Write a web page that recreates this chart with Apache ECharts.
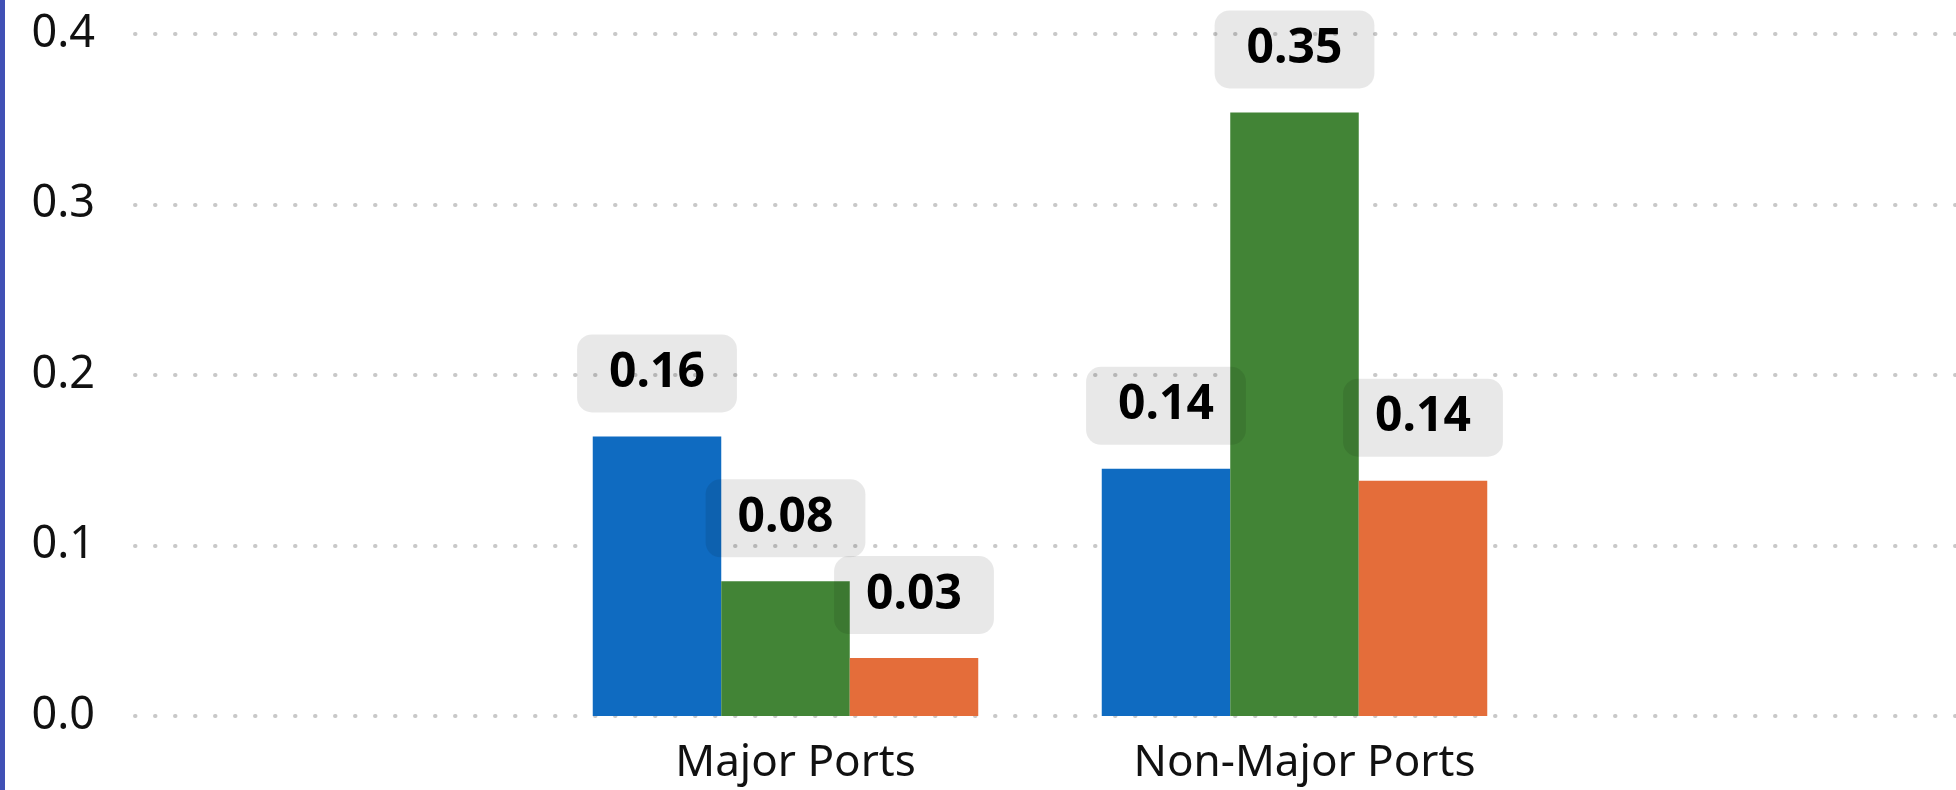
<!DOCTYPE html>
<html>
<head>
<meta charset="utf-8">
<script src="https://cdn.jsdelivr.net/npm/echarts@6/dist/echarts.min.js"></script>
<style>
html,body{margin:0;padding:0;background:#fff;}
#chart{width:1956px;height:790px;}
</style>
</head>
<body>
<div id="chart"></div>
<script>
const categories = ['Major Ports', 'Non-Major Ports'];
const seriesA = [0.164, 0.145];
const seriesB = [0.079, 0.354];
const seriesC = [0.034, 0.138];
const colors = ['#0f6bc1', '#428436', '#e46d3a'];
const yTicks = [0, 0.1, 0.2, 0.3, 0.4];

const FONT = 'Noto Sans';
const chart = echarts.init(document.getElementById('chart'), null, {renderer: 'canvas'});

function mk(name, data, color) {
  return {
    name: name,
    type: 'bar',
    xAxisIndex: 1,
    yAxisIndex: 1,
    data: data,
    barWidth: 128.5,
    barGap: '0%',
    itemStyle: {color: color},
    label: {
      show: true,
      position: 'top',
      distance: 24,
      formatter: p => p.value.toFixed(2),
      fontFamily: FONT,
      fontSize: 48,
      fontWeight: 'bold',
      color: '#000',
      backgroundColor: 'rgba(0,0,0,0.09)',
      borderRadius: 15,
      padding: [15, 32, 15, 32]
    },
    z: 3
  };
}

chart.setOption({
  animation: false,
  grid: [
    {left: 135, right: 0, top: 34, bottom: 74},
    {left: 531, right: 407, top: 34, bottom: 74}
  ],
  xAxis: [
    {type: 'category', gridIndex: 0, data: ['a'], show: false},
    {
      type: 'category', gridIndex: 1, data: categories,
      axisLine: {show: false}, axisTick: {show: false},
      axisLabel: {fontFamily: FONT, fontSize: 44, color: '#111', margin: 25, padding: [0, 0, 0, 20]}
    }
  ],
  yAxis: [
    {
      type: 'value', gridIndex: 0, min: 0, max: yTicks[yTicks.length - 1], interval: 0.1,
      axisLine: {show: false}, axisTick: {show: false},
      axisLabel: {fontFamily: FONT, fontSize: 45, color: '#111', margin: 40, formatter: v => v.toFixed(1)},
      splitLine: {show: true, lineStyle: {color: '#c8c8c8', width: 4, type: [0.5, 19.5], cap: 'round'}}
    },
    {type: 'value', gridIndex: 1, min: 0, max: 0.4, interval: 0.1, show: false, splitLine: {show: false}}
  ],
  series: [
    mk('A', seriesA, colors[0]),
    mk('B', seriesB, colors[1]),
    mk('C', seriesC, colors[2])
  ],
  graphic: [{
    type: 'rect', left: 0, top: 0, shape: {x: 0, y: 0, width: 5, height: 790},
    style: {fill: '#4050b5'}, z: 10
  }]
});
</script>
</body>
</html>
